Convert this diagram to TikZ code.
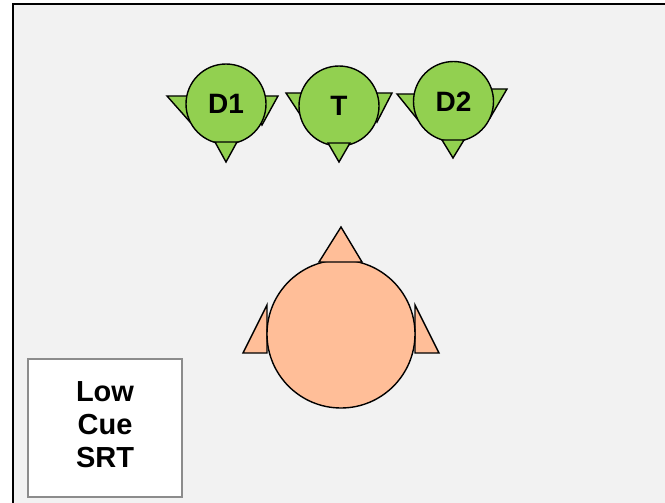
\documentclass[tikz,border=0pt]{standalone}
\usepackage{fontspec}
\setmainfont{Liberation Sans}
\definecolor{panel}{HTML}{F2F2F2}
\definecolor{headgreen}{HTML}{92D050}
\definecolor{headpink}{HTML}{FFBE98}
\definecolor{boxgray}{HTML}{8C8C8C}
\begin{document}
\begin{tikzpicture}[x=1pt,y=-1pt,
  outline/.style={draw=black,line width=1.4pt,line join=miter},
  talker/.style={circle,outline,fill=headgreen,minimum size=80pt,inner sep=0pt,
    font=\bfseries\fontsize{28}{30}\selectfont},
  earG/.style={outline,fill=headgreen},
  listener/.style={circle,outline,fill=headpink,minimum size=148pt,inner sep=0pt},
  earP/.style={outline,fill=headpink},
  label/.style={draw=boxgray,line width=1.4pt,fill=white,minimum width=154pt,minimum height=138pt,
    align=center,font=\bfseries\fontsize{29}{33}\selectfont}]
\useasboundingbox (0,0) rectangle (665,503);
\fill[white] (0,0) rectangle (665,503);
\begin{scope}
  \clip (0,0) rectangle (665,503);
  \fill[panel] (13,4.5) rectangle (670,510);
  \draw[line width=2pt] (13,510) -- (13,4.5) -- (670,4.5);
\end{scope}

% ears of the three talkers (behind the heads)
\filldraw[earG] (167,96) -- (200,96) -- (190,122) -- cycle;
\filldraw[earG] (278,96) -- (250,96) -- (262,125) -- cycle;
\filldraw[earG] (286,93) -- (318,93) -- (305,122) -- cycle;
\filldraw[earG] (392,93) -- (362,93) -- (377,122) -- cycle;
\filldraw[earG] (397,94) -- (430,94) -- (418,120) -- cycle;
\filldraw[earG] (507,89) -- (478,89) -- (490,118) -- cycle;

% talker heads
\node[talker] (d1) at (226,104) {D1};
\node[talker] (t)  at (339,106) {T};
\node[talker] (d2) at (453.5,101.5) {D2};

% noses pointing down
\filldraw[earG] (215,142) -- (237,142) -- (226,162) -- cycle;
\filldraw[earG] (328,143) -- (350,143) -- (339,162) -- cycle;
\filldraw[earG] (442,140) -- (464,140) -- (453,158) -- cycle;

% ears of the listener
\filldraw[earP] (267,305) -- (267,353) -- (243,353) -- cycle;
\filldraw[earP] (415,305) -- (415,353) -- (439,353) -- cycle;

% listener head
\node[listener] (lis) at (341,334) {};

% listener nose
\filldraw[earP] (319,262) -- (362,262) -- (341,227) -- cycle;

% condition label
\node[label] (cond) at (105,428) {};
\node[align=center,font=\bfseries\fontsize{29}{33}\selectfont] (condtext) at (105,425) {Low\\Cue\\SRT};
\end{tikzpicture}
\end{document}
